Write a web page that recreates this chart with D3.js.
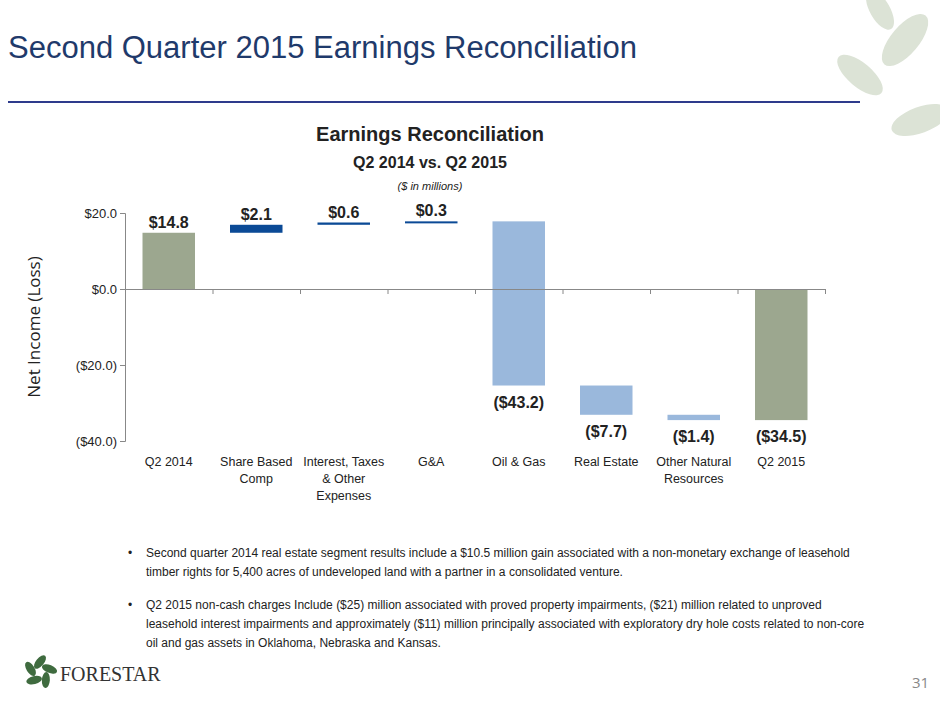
<!DOCTYPE html>
<html>
<head>
<script src="https://d3js.org/d3.v7.min.js"></script>
<style>
body { margin: 0; background: #fff; }
svg text { font-family: 'Liberation Sans Narrow', 'Liberation Sans', Arial, sans-serif; }
</style>
</head>
<body>
<svg id="chart" width="940" height="705"></svg>
<script>
// waterfall steps ($ millions)
var categories = ["Q2 2014", "Share Based|Comp", "Interest, Taxes|& Other|Expenses", "G&A", "Oil & Gas", "Real Estate", "Other Natural|Resources", "Q2 2015"];
var changes = [14.8, 2.1, 0.6, 0.3, -43.2, -7.7, -1.4, -34.5];
var labels = ["$14.8", "$2.1", "$0.6", "$0.3", "($43.2)", "($7.7)", "($1.4)", "($34.5)"];
var kinds = ["total", "inc", "inc", "inc", "dec", "dec", "dec", "total"];
var yTicks = [20, 0, -20, -40];
var yTickLabels = ["$20.0", "$0.0", "($20.0)", "($40.0)"];

var svg = d3.select("#chart");
var colors = { total: "#9CA78F", inc: "#0B4A96", dec: "#9AB8DC" };

// title + rule
svg.append("text").attr("x", 8).attr("y", 58).attr("font-size", 31).attr("fill", "#1F3A6B")
  .text("Second Quarter 2015 Earnings Reconciliation");
svg.append("line").attr("x1", 8).attr("x2", 860).attr("y1", 102).attr("y2", 102)
  .attr("stroke", "#2E3B8C").attr("stroke-width", 2);

// leaves top-right
var leaf = svg.append("g").attr("fill", "#DCE3D6");
[[905, 40, 14, 32, 40], [860, 75, 12, 28, -50], [920, 120, 13, 30, 70], [880, 10, 10, 22, -30]].forEach(function(l) {
  leaf.append("ellipse").attr("cx", l[0]).attr("cy", l[1]).attr("rx", l[2]).attr("ry", l[3])
    .attr("transform", "rotate(" + l[4] + "," + l[0] + "," + l[1] + ")");
});

// chart headings
svg.append("text").attr("x", 430).attr("y", 141).attr("text-anchor", "middle").attr("font-size", 20)
  .attr("font-weight", "bold").attr("fill", "#222").text("Earnings Reconciliation");
svg.append("text").attr("x", 430).attr("y", 168).attr("text-anchor", "middle").attr("font-size", 16)
  .attr("font-weight", "bold").attr("fill", "#222").text("Q2 2014 vs. Q2 2015");
svg.append("text").attr("x", 430).attr("y", 190).attr("text-anchor", "middle").attr("font-size", 11)
  .attr("font-style", "italic").attr("fill", "#222").text("($ in millions)");

var x = d3.scaleBand().domain(d3.range(categories.length)).range([125, 825]).paddingInner(0.4).paddingOuter(0.2);
var y = d3.scaleLinear().domain([-40, 20]).range([441, 213]);

// compute waterfall spans
var run = 0;
var bars = changes.map(function(c, i) {
  var a, b;
  if (kinds[i] === "total") { a = 0; b = c; run = c; }
  else { a = run; b = run + c; run = b; }
  return { i: i, lo: Math.min(a, b), hi: Math.max(a, b), neg: c < 0 };
});

// axes
var ya = svg.append("g").attr("transform", "translate(125,0)")
  .call(d3.axisLeft(y).tickValues(yTicks).tickSize(5).tickFormat(function(d, i) { return yTickLabels[i]; }));
ya.select(".domain").attr("stroke", "#888");
ya.selectAll(".tick line").attr("stroke", "#888");
ya.selectAll("text").attr("font-size", 13).attr("fill", "#222")
  .style("font-family", "'Liberation Sans Narrow', 'Liberation Sans', Arial, sans-serif");

svg.selectAll("rect.bar").data(bars).enter().append("rect")
  .attr("x", function(d) { return x(d.i); }).attr("width", x.bandwidth())
  .attr("y", function(d) { return y(d.hi); })
  .attr("height", function(d) { return Math.max(2, y(d.lo) - y(d.hi)); })
  .attr("fill", function(d) { return colors[kinds[d.i]]; });

var xa = svg.append("g").attr("transform", "translate(0," + y(0) + ")")
  .call(d3.axisBottom(d3.scaleLinear().domain([0, 8]).range([125, 825])).ticks(8).tickSize(5).tickFormat(""));
xa.select(".domain").attr("stroke", "#888");
xa.selectAll(".tick line").attr("stroke", "#888");

// value labels
svg.selectAll("text.val").data(bars).enter().append("text")
  .attr("x", function(d) { return x(d.i) + x.bandwidth() / 2; })
  .attr("y", function(d) { return d.neg ? y(d.lo) + 22 : y(d.hi) - 5; })
  .attr("text-anchor", "middle").attr("font-size", 16).attr("font-weight", "bold").attr("fill", "#222")
  .text(function(d) { return labels[d.i]; });

// category labels
categories.forEach(function(c, i) {
  var t = svg.append("text").attr("x", x(i) + x.bandwidth() / 2).attr("y", 466)
    .attr("text-anchor", "middle").attr("font-size", 12.5).attr("fill", "#222");
  c.split("|").forEach(function(s, k) {
    t.append("tspan").attr("x", x(i) + x.bandwidth() / 2).attr("dy", k ? 17 : 0).text(s);
  });
});

svg.append("text").attr("transform", "translate(40,327) rotate(-90)").attr("text-anchor", "middle")
  .attr("font-size", 17).attr("fill", "#222").style("font-family", "'Open Sans', sans-serif").text("Net Income (Loss)");

// bullets
var bullets = [
  ["Second quarter 2014 real estate segment results include a $10.5 million gain associated with a non-monetary exchange of leasehold",
   "timber rights for 5,400 acres of undeveloped land with a partner in a consolidated venture."],
  ["Q2 2015 non-cash charges Include ($25) million associated with proved property impairments,  ($21) million related to unproved",
   "leasehold interest impairments and approximately ($11) million principally associated with exploratory dry hole costs related to non-core",
   "oil and gas assets in Oklahoma, Nebraska and Kansas."]
];
var by = 557;
bullets.forEach(function(b) {
  svg.append("text").attr("x", 128).attr("y", by).attr("font-size", 12).attr("fill", "#222").text("•");
  b.forEach(function(line, k) {
    svg.append("text").attr("x", 146).attr("y", by + k * 19).attr("font-size", 12).attr("fill", "#222").text(line);
  });
  by += b.length * 19 + 14;
});

// footer logo
var lg = svg.append("g").attr("fill", "#3F6B3F");
d3.range(5).forEach(function(k) {
  var a = k * 72 * Math.PI / 180;
  lg.append("ellipse").attr("cx", 40 + 10 * Math.sin(a)).attr("cy", 672 - 10 * Math.cos(a))
    .attr("rx", 4).attr("ry", 8).attr("transform", "rotate(" + (k * 72 + 40) + "," + (40 + 10 * Math.sin(a)) + "," + (672 - 10 * Math.cos(a)) + ")");
});
svg.append("text").attr("x", 60).attr("y", 681).attr("font-size", 20).attr("fill", "#333")
  .style("font-family", "'Liberation Serif', serif").text("FORESTAR");
svg.append("text").attr("x", 912).attr("y", 688).attr("font-size", 15).attr("fill", "#888")
  .style("font-family", "'Open Sans', sans-serif").text("31");
</script>
</body>
</html>
